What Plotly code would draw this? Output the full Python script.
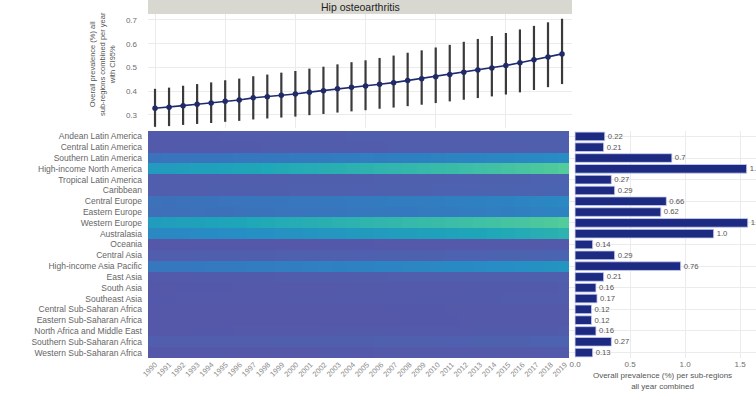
import plotly.graph_objects as go

W, H = 756, 401

years = list(range(1990, 2020))

# Top panel: overall prevalence per year with CI95%
overall_mean = [0.328, 0.332, 0.339, 0.345, 0.350, 0.358, 0.363, 0.372, 0.377, 0.383,
                0.388, 0.396, 0.402, 0.410, 0.417, 0.422, 0.429, 0.436, 0.445, 0.452,
                0.461, 0.470, 0.480, 0.489, 0.498, 0.508, 0.520, 0.532, 0.544, 0.557]
ci_upper = [0.410, 0.415, 0.423, 0.430, 0.437, 0.446, 0.453, 0.463, 0.470, 0.478,
            0.485, 0.495, 0.503, 0.513, 0.522, 0.530, 0.540, 0.550, 0.562, 0.572,
            0.584, 0.595, 0.608, 0.620, 0.632, 0.645, 0.660, 0.675, 0.690, 0.705]
ci_lower = [0.250, 0.253, 0.258, 0.262, 0.266, 0.271, 0.275, 0.281, 0.285, 0.289,
            0.293, 0.299, 0.304, 0.310, 0.315, 0.320, 0.326, 0.331, 0.337, 0.343,
            0.350, 0.357, 0.364, 0.371, 0.378, 0.386, 0.395, 0.405, 0.417, 0.430]

regions = ["Andean Latin America", "Central Latin America", "Southern Latin America",
           "High-income North America", "Tropical Latin America", "Caribbean",
           "Central Europe", "Eastern Europe", "Western Europe", "Australasia",
           "Oceania", "Central Asia", "High-income Asia Pacific", "East Asia",
           "South Asia", "Southeast Asia", "Central Sub-Saharan Africa",
           "Eastern Sub-Saharan Africa", "North Africa and Middle East",
           "Southern Sub-Saharan Africa", "Western Sub-Saharan Africa"]

# Heatmap: prevalence per region (rows) and year (columns)
andean = [0.22,0.22,0.23,0.23,0.23,0.24,0.24,0.24,0.25,0.25,0.25,0.26,0.26,0.26,0.27,0.27,0.27,0.28,0.28,0.28,0.29,0.29,0.30,0.30,0.30,0.31,0.31,0.32,0.32,0.33]
central_la = [0.21,0.21,0.22,0.22,0.22,0.23,0.23,0.23,0.24,0.24,0.24,0.25,0.25,0.25,0.26,0.26,0.26,0.27,0.27,0.27,0.28,0.28,0.29,0.29,0.29,0.30,0.30,0.31,0.31,0.32]
southern_la = [0.70,0.71,0.72,0.73,0.74,0.75,0.76,0.77,0.78,0.80,0.81,0.82,0.83,0.84,0.86,0.87,0.88,0.89,0.90,0.92,0.93,0.94,0.96,0.97,0.99,1.00,1.02,1.04,1.06,1.08]
hi_north_america = [1.25,1.27,1.29,1.31,1.33,1.35,1.37,1.39,1.41,1.43,1.45,1.47,1.49,1.51,1.53,1.55,1.57,1.59,1.61,1.63,1.65,1.67,1.69,1.72,1.74,1.77,1.80,1.83,1.86,1.90]
tropical_la = [0.27,0.27,0.28,0.28,0.28,0.29,0.29,0.30,0.30,0.30,0.31,0.31,0.32,0.32,0.33,0.33,0.34,0.34,0.35,0.35,0.35,0.36,0.36,0.37,0.37,0.38,0.38,0.39,0.39,0.40]
caribbean = [0.29,0.29,0.30,0.30,0.31,0.31,0.32,0.32,0.33,0.33,0.34,0.34,0.35,0.35,0.36,0.36,0.37,0.37,0.38,0.38,0.39,0.39,0.40,0.40,0.41,0.41,0.42,0.42,0.43,0.44]
central_europe = [0.66,0.67,0.68,0.69,0.70,0.71,0.72,0.73,0.74,0.75,0.76,0.77,0.78,0.79,0.81,0.82,0.83,0.84,0.85,0.86,0.88,0.89,0.90,0.92,0.93,0.95,0.96,0.98,1.00,1.02]
eastern_europe = [0.63,0.64,0.65,0.66,0.67,0.67,0.68,0.69,0.70,0.71,0.72,0.73,0.74,0.75,0.76,0.77,0.78,0.79,0.80,0.81,0.82,0.83,0.84,0.86,0.87,0.88,0.90,0.91,0.93,0.95]
western_europe = [1.27,1.29,1.31,1.33,1.35,1.37,1.39,1.41,1.43,1.45,1.47,1.49,1.51,1.53,1.55,1.57,1.59,1.61,1.63,1.65,1.67,1.69,1.71,1.73,1.75,1.78,1.80,1.83,1.86,1.90]
australasia = [1.01,1.03,1.04,1.06,1.07,1.09,1.10,1.12,1.13,1.15,1.16,1.18,1.19,1.21,1.23,1.24,1.26,1.28,1.29,1.31,1.33,1.35,1.37,1.39,1.41,1.43,1.45,1.48,1.51,1.54]
oceania = [0.13,0.13,0.13,0.14,0.14,0.14,0.14,0.15,0.15,0.15,0.15,0.15,0.16,0.16,0.16,0.16,0.17,0.17,0.17,0.17,0.18,0.18,0.18,0.18,0.19,0.19,0.19,0.19,0.20,0.20]
central_asia = [0.29,0.30,0.30,0.31,0.31,0.32,0.32,0.33,0.33,0.34,0.34,0.34,0.35,0.35,0.36,0.36,0.37,0.37,0.38,0.38,0.38,0.39,0.39,0.40,0.40,0.41,0.41,0.42,0.43,0.43]
hi_asia_pacific = [0.77,0.78,0.79,0.80,0.81,0.82,0.83,0.85,0.86,0.87,0.88,0.89,0.91,0.92,0.93,0.95,0.96,0.97,0.99,1.00,1.02,1.03,1.05,1.06,1.08,1.10,1.12,1.14,1.16,1.18]
east_asia = [0.21,0.21,0.21,0.22,0.22,0.22,0.23,0.23,0.23,0.24,0.24,0.24,0.25,0.25,0.26,0.26,0.26,0.27,0.27,0.28,0.28,0.28,0.29,0.29,0.30,0.30,0.31,0.31,0.32,0.32]
south_asia = [0.15,0.15,0.16,0.16,0.16,0.16,0.17,0.17,0.17,0.17,0.18,0.18,0.18,0.18,0.19,0.19,0.19,0.20,0.20,0.20,0.21,0.21,0.21,0.22,0.22,0.22,0.23,0.23,0.23,0.24]
southeast_asia = [0.16,0.16,0.17,0.17,0.17,0.17,0.18,0.18,0.18,0.18,0.19,0.19,0.19,0.20,0.20,0.20,0.21,0.21,0.21,0.22,0.22,0.22,0.23,0.23,0.23,0.24,0.24,0.25,0.25,0.25]
central_ssa = [0.12,0.12,0.12,0.13,0.13,0.13,0.13,0.13,0.14,0.14,0.14,0.14,0.14,0.15,0.15,0.15,0.15,0.16,0.16,0.16,0.16,0.17,0.17,0.17,0.17,0.18,0.18,0.18,0.18,0.19]
eastern_ssa = [0.12,0.12,0.12,0.12,0.13,0.13,0.13,0.13,0.13,0.14,0.14,0.14,0.14,0.15,0.15,0.15,0.15,0.15,0.16,0.16,0.16,0.16,0.17,0.17,0.17,0.17,0.18,0.18,0.18,0.19]
north_africa_me = [0.15,0.15,0.15,0.16,0.16,0.16,0.17,0.17,0.17,0.17,0.18,0.18,0.18,0.19,0.19,0.19,0.19,0.20,0.20,0.20,0.21,0.21,0.21,0.22,0.22,0.22,0.23,0.23,0.23,0.24]
southern_ssa = [0.27,0.27,0.28,0.28,0.29,0.29,0.29,0.30,0.30,0.31,0.31,0.31,0.32,0.32,0.33,0.33,0.34,0.34,0.34,0.35,0.35,0.36,0.36,0.37,0.37,0.38,0.38,0.39,0.39,0.40]
western_ssa = [0.13,0.13,0.13,0.13,0.14,0.14,0.14,0.14,0.15,0.15,0.15,0.15,0.16,0.16,0.16,0.16,0.17,0.17,0.17,0.17,0.18,0.18,0.18,0.18,0.19,0.19,0.19,0.20,0.20,0.20]

heat_rows = [andean, central_la, southern_la, hi_north_america, tropical_la, caribbean,
             central_europe, eastern_europe, western_europe, australasia, oceania,
             central_asia, hi_asia_pacific, east_asia, south_asia, southeast_asia,
             central_ssa, eastern_ssa, north_africa_me, southern_ssa, western_ssa]
for i, r in enumerate(heat_rows):
    if len(r) != 30:
        print("row", i, "has", len(r))

# Right panel: prevalence per sub-region, all years combined
bar_values = [0.27, 0.26, 0.88, 1.56, 0.33, 0.36, 0.83, 0.78, 1.57, 1.26, 0.16,
              0.36, 0.96, 0.26, 0.19, 0.20, 0.15, 0.15, 0.19, 0.33, 0.16]
bar_labels = ["0.22", "0.21", "0.7", "1.2", "0.27", "0.29", "0.66", "0.62", "1.3", "1.0",
              "0.14", "0.29", "0.76", "0.21", "0.16", "0.17", "0.12", "0.12", "0.16",
              "0.27", "0.13"]
bar_ticks = [0.0, 0.5, 1.0, 1.5]
bar_tick_labels = ["0.0", "0.5", "1.0", "1.5"]
top_ticks = [0.3, 0.4, 0.5, 0.6, 0.7]

def px_x(p):
    return p / W

def px_y(p):
    return 1 - p / H

FONT = "Liberation Sans, Arial, sans-serif"
GRID = "#ebebeb"
TICKC = "#6e6e6e"

fig = go.Figure()

# Top panel
fig.add_trace(go.Scatter(
    x=years, y=overall_mean, mode="lines+markers",
    line=dict(color="#1f2a6b", width=1.6),
    marker=dict(color="#1f2a6b", size=5.5),
    error_y=dict(type="data", symmetric=False,
                 array=[u - m for u, m in zip(ci_upper, overall_mean)],
                 arrayminus=[m - l for m, l in zip(overall_mean, ci_lower)],
                 color="#3a3a3a", thickness=2.2, width=0),
    xaxis="x", yaxis="y", showlegend=False, hoverinfo="skip"))

# Heatmap
colorscale = [[0.0, "#5656a8"], [0.167, "#4d62b0"], [0.39, "#3479bf"],
              [0.556, "#268ec4"], [0.72, "#1ea7b8"], [1.0, "#52cc9a"]]
fig.add_trace(go.Heatmap(
    z=heat_rows, x=[str(y) for y in years], y=regions,
    colorscale=colorscale, zmin=0.1, zmax=1.9, showscale=False,
    xaxis="x2", yaxis="y2", hoverinfo="skip"))

# Bars
fig.add_trace(go.Bar(
    x=bar_values, y=regions, orientation="h",
    marker=dict(color="#1d2a82", line=dict(color="#c9d1f2", width=0.8)),
    width=0.8,
    text=bar_labels, textposition="outside", cliponaxis=False,
    textfont=dict(size=8, color="#555555", family=FONT),
    xaxis="x3", yaxis="y3", showlegend=False, hoverinfo="skip"))

fig.update_layout(
    width=W, height=H,
    margin=dict(l=0, r=0, t=0, b=0, autoexpand=False),
    paper_bgcolor="white", plot_bgcolor="white",
    font=dict(family=FONT, size=8, color=TICKC),
    bargap=0.2,
    xaxis=dict(domain=[px_x(148), px_x(572)], range=[1989.5, 2019.71],
               showticklabels=False, ticks="", dtick=5, tick0=1990,
               showgrid=True, gridcolor=GRID, zeroline=False, anchor="y"),
    yaxis=dict(domain=[px_y(128), px_y(14)], range=[0.245, 0.725],
               tickvals=top_ticks, ticktext=[f"{v:.1f}" for v in top_ticks],
               showgrid=True, gridcolor=GRID, zeroline=False, ticks="",
               ticklabelstandoff=10,
               tickfont=dict(size=8, color=TICKC), anchor="x", automargin=False),
    xaxis2=dict(domain=[px_x(148), px_x(572)], anchor="y2", tickangle=-45,
                tickfont=dict(size=7.5, color="#8a8a8a"), ticks="",
                showgrid=False, zeroline=False, type="category", automargin=False),
    yaxis2=dict(domain=[px_y(358), px_y(131)], anchor="x2", autorange="reversed",
                tickfont=dict(size=8.5, color="#666666"), ticks="",
                ticklabelstandoff=5,
                showgrid=False, zeroline=False, type="category", automargin=False,
                categoryorder="array", categoryarray=regions),
    xaxis3=dict(domain=[px_x(569), 1.0], anchor="y3", range=[-0.055, 1.645],
                tickvals=bar_ticks, ticktext=bar_tick_labels,
                tickfont=dict(size=8, color=TICKC), ticks="", automargin=False,
                showgrid=True, gridcolor=GRID, zeroline=False,
                title=dict(text="Overall prevalence (%) per sub-regions<br>all year combined",
                           font=dict(size=8, color="#555555"), standoff=4)),
    yaxis3=dict(domain=[px_y(358), px_y(131)], anchor="x3", autorange="reversed",
                showticklabels=False, ticks="", showgrid=True, gridcolor=GRID,
                zeroline=False, type="category", automargin=False,
                categoryorder="array", categoryarray=regions),
    shapes=[dict(type="rect", xref="paper", yref="paper",
                 x0=px_x(148), x1=px_x(572), y0=px_y(14), y1=1.0,
                 fillcolor="#d8d8d0", line=dict(width=0), layer="below")],
    annotations=[
        dict(text="Hip osteoarthritis", xref="paper", yref="paper",
             x=px_x(360), y=px_y(7), xanchor="center", yanchor="middle",
             showarrow=False,
             font=dict(size=10.5, color="#222222", family=FONT)),
        dict(text="Overall prevalence (%) all<br>sub-regions combined per year<br>with CI95%",
             xref="paper", yref="paper", x=px_x(102), y=px_y(64),
             xanchor="center", yanchor="middle", showarrow=False,
             textangle=-90, font=dict(size=7.5, color="#555555", family=FONT)),
    ],
)

fig.write_html("out.html", config={"displayModeBar": False},
               post_script="document.body.style.margin='0px';document.body.style.overflow='hidden';")
